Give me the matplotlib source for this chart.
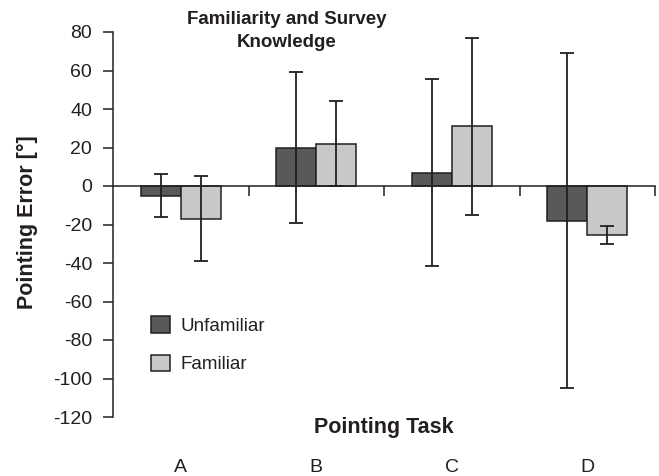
import matplotlib.pyplot as plt
import matplotlib.transforms as mtransforms
from matplotlib.patches import Patch
import numpy as np

plt.rcParams['font.family'] = ['Liberation Sans', 'DejaVu Sans']

# Pointing error per task, mean and error bar half-length
tasks = ['A', 'B', 'C', 'D']
unfamiliar_mean = [-5.0, 20.0, 7.0, -18.0]
unfamiliar_err = [11.0, 39.0, 48.5, 87.0]
familiar_mean = [-17.0, 22.0, 31.0, -25.5]
familiar_err = [22.0, 22.0, 46.0, 4.7]
yticks = [80, 60, 40, 20, 0, -20, -40, -60, -80, -100, -120]

dark = '#58595b'
light = '#c7c8ca'
ink = '#231f20'

fig = plt.figure(figsize=(6.59, 4.76), dpi=100)
ax = fig.add_axes([113 / 659, 59 / 476, 542 / 659, 385 / 476])

x = np.arange(len(tasks))
w = 0.295
ax.bar(x - w / 2, unfamiliar_mean, w, color=dark, edgecolor=ink, linewidth=1.1, zorder=2)
ax.bar(x + w / 2, familiar_mean, w, color=light, edgecolor=ink, linewidth=1.1, zorder=2)
ax.errorbar(x - w / 2, unfamiliar_mean, yerr=unfamiliar_err, fmt='none', ecolor=ink,
            elinewidth=1.3, capsize=5.2, capthick=1.3, zorder=3)
ax.errorbar(x + w / 2, familiar_mean, yerr=familiar_err, fmt='none', ecolor=ink,
            elinewidth=1.3, capsize=5.2, capthick=1.3, zorder=3)

ax.set_xlim(-0.5, len(tasks) - 0.5)
ax.set_ylim(-120, 80)
ax.set_yticks(yticks)
ax.set_yticklabels([str(v) for v in yticks])

# category axis sits on the zero line, ticks between groups
ax.spines['top'].set_visible(False)
ax.spines['right'].set_visible(False)
ax.spines['bottom'].set_position(('data', 0))
for side in ('bottom', 'left'):
    ax.spines[side].set_color(ink)
    ax.spines[side].set_linewidth(1.1)
ax.set_xticks(np.arange(len(tasks)) + 0.5)
ax.set_xticklabels([])
ax.tick_params(axis='x', direction='out', length=7, width=1.1, color=ink)
ax.tick_params(axis='y', direction='out', length=7, width=1.1, color=ink,
               labelsize=14, labelcolor=ink, pad=8)

trans = mtransforms.blended_transform_factory(ax.transData, ax.transAxes)
for i, t in enumerate(tasks):
    ax.text(i, -0.13, t, transform=trans, ha='center', va='center',
            fontsize=14, color=ink)

ax.text(0.5, -0.027, 'Pointing Task', transform=ax.transAxes, ha='center', va='center',
        fontsize=15.5, fontweight='bold', color=ink)
ax.set_ylabel('Pointing Error [°]', fontsize=15.5, fontweight='bold', color=ink)
ax.yaxis.set_label_coords(-0.138, 0.505)

fig.text(287 / 659, 1 - 31 / 476, 'Familiarity and Survey\nKnowledge', ha='center', va='center',
         fontsize=13.5, fontweight='bold', color=ink, linespacing=1.45)

handles = [Patch(facecolor=dark, edgecolor=ink, linewidth=1.1),
           Patch(facecolor=light, edgecolor=ink, linewidth=1.1)]
ax.legend(handles, ['Unfamiliar', 'Familiar'], loc='upper left', bbox_to_anchor=(0.070, 0.262),
          frameon=False, fontsize=13.5, handlelength=1.0, handleheight=1.0, borderpad=0,
          borderaxespad=0, labelspacing=1.05, handletextpad=0.55, labelcolor=ink)

fig.savefig('out.png', dpi=100)
